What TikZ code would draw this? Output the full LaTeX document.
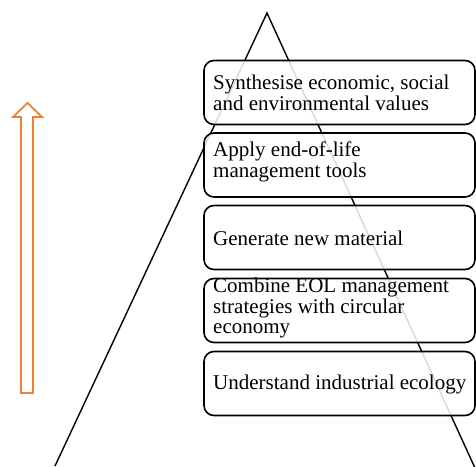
\documentclass[tikz,border=0pt]{standalone}
\usepackage{fontspec}
\setmainfont{Liberation Serif}
\definecolor{arroworange}{RGB}{240,128,50}
\begin{document}
\begin{tikzpicture}[x=1pt,y=-1pt,
  stagebox/.style={draw=black,line width=1.6pt,rounded corners=10pt,fill=white,fill opacity=0.85,
    minimum width=271pt,minimum height=64pt,inner sep=0pt},
  stagetext/.style={anchor=west,align=left,inner sep=0pt,font=\fontsize{21}{20.5}\selectfont},
  tri/.style={draw=black,line width=1.4pt}]
\useasboundingbox (0,0) rectangle (476,466);
% pyramid
\coordinate (apex) at (267,13);
\coordinate (bl) at (55,466);
\coordinate (br) at (475,468);
\draw[tri] (bl) -- (apex) -- (br);
% stage boxes
\node[stagebox] (b1) at (339.5,92.5) {};
\node[stagebox] (b2) at (339.5,165) {};
\node[stagebox] (b3) at (339.5,237.5) {};
\node[stagebox] (b4) at (339.5,310.5) {};
\node[stagebox] (b5) at (339.5,383.5) {};
\node[stagetext] (t1) at (213,93) {Synthesise economic, social\\and environmental values};
\node[stagetext] (t2) at (213,162) {Apply end-of-life\\management tools};
\node[stagetext] (t3) at (213,238) {Generate new material};
\node[stagetext] (t4) at (213,308) {Combine EOL management\\strategies with circular\\economy};
\node[stagetext] (t5) at (213,384) {Understand industrial ecology};
% orange arrow
\draw[arroworange,line width=1.8pt,line join=miter]
  (21,393) -- (21,117) -- (13,117) -- (27.5,103) -- (42,117) -- (33,117) -- (33,393) -- cycle;
\end{tikzpicture}
\end{document}
